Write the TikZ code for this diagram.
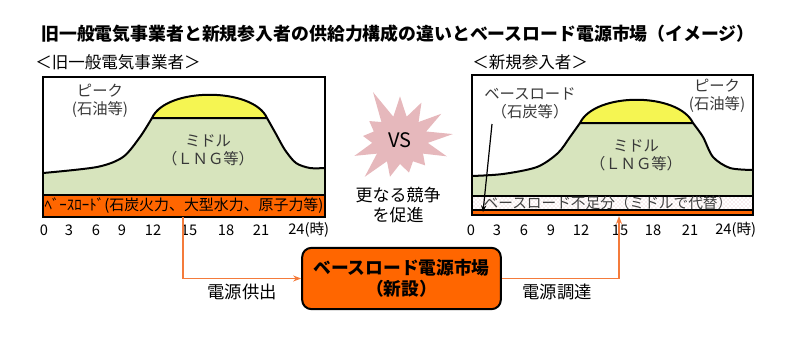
\documentclass[tikz,border=0pt]{standalone}
\usepackage{fontspec}
\setmainfont{Noto Sans CJK JP}
\definecolor{BLOrange}{HTML}{FF6600}
\definecolor{BLLink}{HTML}{F47B3B}
\definecolor{BLGreen}{HTML}{D7E4BD}
\definecolor{BLYellow}{HTML}{F5F552}
\definecolor{BLStar}{HTML}{E6B8BC}
\usetikzlibrary{positioning,arrows.meta,shapes.symbols,patterns}

\begin{document}
\begin{tikzpicture}[x=0.75pt,y=-0.75pt,
    txt/.style={font=\fontsize{11.5}{13.5}\selectfont, text=black!78, align=center, inner sep=0pt},
    hour/.style={font=\fontsize{11}{13}\selectfont, inner sep=0pt},
    ridge/.style={line width=1.5pt, line join=round},
    frame/.style={draw, line width=1.5pt},
    link/.style={draw=BLLink, line width=1.2pt},
    every node/.style={font=\fontsize{10.5}{13}\selectfont}]
  \useasboundingbox (0,0) rectangle (800,336);

  % title
  \node[font=\bfseries\fontsize{13.4}{16}\selectfont] (title) at (398,34)
    {旧一般電気事業者と新規参入者の供給力構成の違いとベースロード電源市場（イメージ）};
  \node[font=\fontsize{12.4}{15}\selectfont, anchor=west, inner sep=0pt] (lsub) at (35,62) {＜旧一般電気事業者＞};
  \node[font=\fontsize{12.4}{15}\selectfont, anchor=west, inner sep=0pt] (rsub) at (472,62) {＜新規参入者＞};

  % left chart
  \fill[BLOrange] (43,195) rectangle (325,217);
  \fill[BLGreen] (43,195) -- plot[smooth] coordinates {(43,173) (97,167) (123,157) (140,137) (152,118)}
    -- plot[smooth] coordinates {(267,118) (276,134) (285,150) (296,163) (310,168) (325,168)} -- (325,195) -- cycle;
  \filldraw[fill=BLYellow, ridge] (152,118) .. controls (166,87) and (253,87) .. (267,118) -- cycle;
  \draw[ridge] plot[smooth] coordinates {(43,173) (97,167) (123,157) (140,137) (152,118)};
  \draw[ridge] plot[smooth] coordinates {(267,118) (276,134) (285,150) (296,163) (310,168) (325,168)};
  \draw[line width=1.2pt] (43,195) -- (325,195);
  \draw[frame] (43,77) rectangle (325,217);
  \node[txt] (lpeak) at (100,101) {ピーク\\(石油等)};
  \node[txt] (lmid) at (208,150) {ミドル\\（ＬＮＧ等）};
  \node[font=\fontsize{11.2}{13}\selectfont, inner sep=0pt] (lbase) at (184,206) {ﾍﾞｰｽﾛｰﾄﾞ(石炭火力、大型水力、原子力等)};

  % right chart
  \fill[BLOrange] (472,210) rectangle (753,215);
  \fill[white] (472,196) rectangle (753,210);
  \fill[pattern=crosshatch dots, pattern color=BLStar] (472,196) rectangle (753,210);
  \fill[BLGreen] (472,196) -- plot[smooth] coordinates {(472,176) (503,174) (537,167) (558,153) (570,137) (580,123)}
    -- plot[smooth] coordinates {(693,123) (703,137) (713,157) (730,168) (753,170)} -- (753,196) -- cycle;
  \filldraw[fill=BLYellow, ridge] (580,123) .. controls (595,92) and (678,92) .. (693,123) -- cycle;
  \draw[ridge] plot[smooth] coordinates {(472,176) (503,174) (537,167) (558,153) (570,137) (580,123)};
  \draw[ridge] plot[smooth] coordinates {(693,123) (703,137) (713,157) (730,168) (753,170)};
  \draw[line width=1.2pt] (472,196) -- (753,196) (472,210) -- (753,210);
  \draw[frame] (472,75) rectangle (753,215);
  \node[txt] (rbase) at (530,103) {ベースロード\\（石炭等）};
  \node[txt] (rpeak) at (717,96) {ピーク\\(石油等)};
  \node[txt] (rmid) at (636,155) {ミドル\\（ＬＮＧ等）};
  \node[font=\fontsize{11}{13}\selectfont, text=black!75, inner sep=0pt] (rshort) at (608,203) {ベースロード不足分（ミドルで代替）};
  \coordinate (rbsrc) at (492,124);
  \coordinate (rbtip) at (483,212);
  \draw[-{Stealth[length=5pt,width=4pt]}, line width=0.9pt] (rbsrc) -- (rbtip);

  % vs
  \node[starburst, fill=BLStar, starburst points=13, starburst point height=24pt, random starburst=5,
    minimum width=90pt, minimum height=84pt, font=\fontsize{15}{17}\selectfont] (vs) at (400,140) {VS};
  \node[font=\fontsize{12.75}{15}\selectfont, align=center] (more) at (398,205) {更なる競争\\を促進};

  % hours
  \foreach \h/\x in {0/44,3/69,6/96,9/122,12/153,15/189,18/226,21/261}
    \node[hour] (lh\h) at (\x,230) {\h};
  \node[hour, anchor=west] (lh24) at (288,230) {24(時)};
  \foreach \h/\x in {0/471,3/497,6/524,9/551,12/581,15/620,18/653,21/690}
    \node[hour] (rh\h) at (\x,230) {\h};
  \node[hour, anchor=west] (rh24) at (715,230) {24(時)};

  % market
  \node[draw, fill=BLOrange, rounded corners=7pt, line width=1.5pt, minimum width=149pt, minimum height=46pt,
    align=center, font=\bfseries\fontsize{13.3}{16}\selectfont] (mkt) at (401.5,278.5) {ベースロード電源市場\\（新設）};
  \coordinate (lout) at (183,217);
  \coordinate (rin) at (619,216);
  \draw[link, -{Stealth[length=6pt]}] (lout) |- (mkt.west);
  \draw[link, -{Stealth[length=6pt]}] (mkt.east) -| (rin);
  \node[font=\fontsize{13}{15}\selectfont] (supply) at (242,292) {電源供出};
  \node[font=\fontsize{13}{15}\selectfont] (procure) at (557,292) {電源調達};
\end{tikzpicture}
\end{document}
